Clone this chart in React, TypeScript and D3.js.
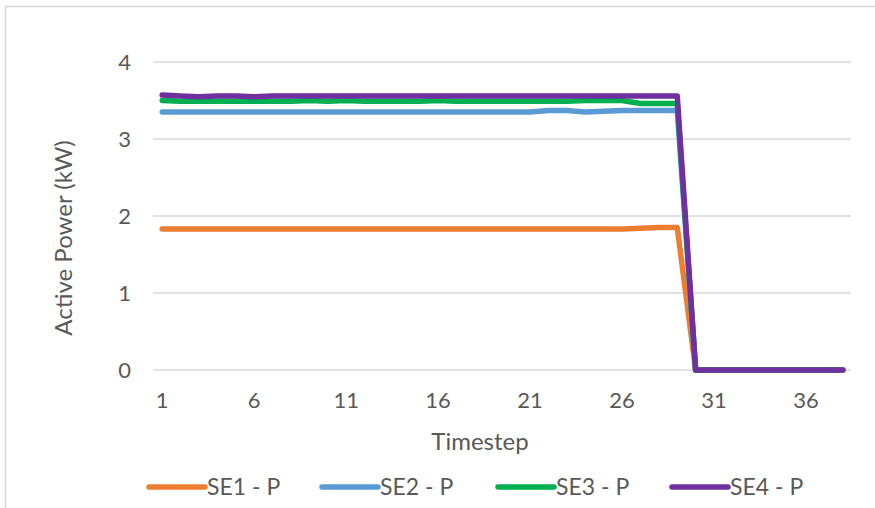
import React from "react";
import * as d3 from "d3";

// Timestep categories 1..38
const timesteps: number[] = [
  1, 2, 3, 4, 5, 6, 7, 8, 9, 10, 11, 12, 13, 14, 15, 16, 17, 18, 19, 20,
  21, 22, 23, 24, 25, 26, 27, 28, 29, 30, 31, 32, 33, 34, 35, 36, 37, 38,
];

// Active power per station (kW)
const se1: number[] = [
  1.83, 1.83, 1.83, 1.83, 1.83, 1.83, 1.83, 1.83, 1.83, 1.83, 1.83, 1.83, 1.83,
  1.83, 1.83, 1.83, 1.83, 1.83, 1.83, 1.83, 1.83, 1.83, 1.83, 1.83, 1.83, 1.83,
  1.84, 1.85, 1.85, 0, 0, 0, 0, 0, 0, 0, 0, 0,
];
const se2: number[] = [
  3.35, 3.35, 3.35, 3.35, 3.35, 3.35, 3.35, 3.35, 3.35, 3.35, 3.35, 3.35, 3.35,
  3.35, 3.35, 3.35, 3.35, 3.35, 3.35, 3.35, 3.35, 3.37, 3.37, 3.35, 3.36, 3.37,
  3.37, 3.37, 3.37, 0, 0, 0, 0, 0, 0, 0, 0, 0,
];
const se3: number[] = [
  3.5, 3.49, 3.49, 3.49, 3.49, 3.49, 3.49, 3.49, 3.5, 3.49, 3.5, 3.49, 3.49,
  3.49, 3.49, 3.5, 3.49, 3.49, 3.49, 3.49, 3.49, 3.49, 3.49, 3.5, 3.5, 3.5,
  3.46, 3.46, 3.46, 0, 0, 0, 0, 0, 0, 0, 0, 0,
];
const se4: number[] = [
  3.57, 3.56, 3.55, 3.56, 3.56, 3.55, 3.56, 3.56, 3.56, 3.56, 3.56, 3.56, 3.56,
  3.56, 3.56, 3.56, 3.56, 3.56, 3.56, 3.56, 3.56, 3.56, 3.56, 3.56, 3.56, 3.56,
  3.56, 3.56, 3.56, 0, 0, 0, 0, 0, 0, 0, 0, 0,
];

const seriesNames: string[] = ["SE1 - P", "SE2 - P", "SE3 - P", "SE4 - P"];
const seriesColors: string[] = ["#ED7D31", "#5B9BD5", "#00B050", "#7030A0"];
const seriesValues: number[][] = [se1, se2, se3, se4];

const yTicks: number[] = [0, 1, 2, 3, 4];
const xTickLabels: number[] = [1, 6, 11, 16, 21, 26, 31, 36];

const W = 875;
const H = 508;
const FONT = "Lato, 'Open Sans', sans-serif";
const TEXT = "#595959";

export default function App() {
  const x = d3
    .scaleBand<number>()
    .domain(timesteps)
    .range([153, 852])
    .paddingInner(0)
    .paddingOuter(0);
  const cx = (t: number) => (x(t) as number) + x.bandwidth() / 2;
  const y = d3.scaleLinear().domain([0, 4]).range([370, 62]);

  const line = d3
    .line<number>()
    .x((_, i) => cx(timesteps[i]))
    .y((v) => y(v));

  const legendX = [149, 322, 498, 672];

  return (
    <svg
      width={W}
      height={H}
      style={{ position: "absolute", left: 0, top: 0, background: "#fff" }}
      fontFamily={FONT}
    >
      <rect x={5.5} y={6.5} width={W + 10} height={H + 10} fill="#fff" stroke="#D9D9D9" strokeWidth={1.5} />

      {/* horizontal gridlines */}
      {yTicks.map((t) => (
        <line key={t} x1={153} x2={851} y1={y(t)} y2={y(t)} stroke="#D9D9D9" strokeWidth={1.5} />
      ))}

      {/* y tick labels */}
      {yTicks.map((t) => (
        <text key={t} x={131} y={y(t)} dy="0.35em" textAnchor="end" fontSize={22} fill={TEXT}>
          {t}
        </text>
      ))}

      {/* x tick labels */}
      {xTickLabels.map((t) => (
        <text key={t} x={cx(t)} y={400} dy="0.35em" textAnchor="middle" fontSize={22} fill={TEXT}>
          {t}
        </text>
      ))}

      {/* axis titles */}
      <text x={480} y={442} dy="0.35em" textAnchor="middle" fontSize={24} fill={TEXT}>
        Timestep
      </text>
      <text
        transform={`translate(64,238) rotate(-90)`}
        dy="0.35em"
        textAnchor="middle"
        fontSize={24}
        fill={TEXT}
      >
        Active Power (kW)
      </text>

      {/* series */}
      {seriesValues.map((vals, i) => (
        <path
          key={seriesNames[i]}
          d={line(vals) || ""}
          fill="none"
          stroke={seriesColors[i]}
          strokeWidth={5.5}
          strokeLinejoin="round"
          strokeLinecap="round"
        />
      ))}

      {/* legend */}
      {seriesNames.map((name, i) => (
        <g key={name}>
          <line
            x1={legendX[i]}
            x2={legendX[i] + 56}
            y1={487}
            y2={487}
            stroke={seriesColors[i]}
            strokeWidth={5.5}
            strokeLinecap="round"
          />
          <text x={legendX[i] + 58} y={487} dy="0.35em" fontSize={23} fill={TEXT}>
            {name}
          </text>
        </g>
      ))}
    </svg>
  );
}
